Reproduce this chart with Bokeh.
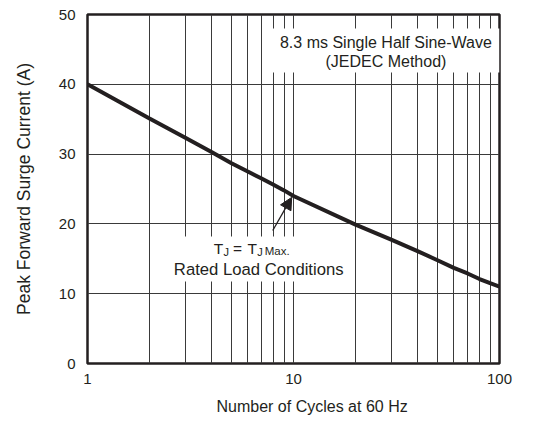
from bokeh.plotting import figure
from bokeh.models import (FixedTicker, Label, BoxAnnotation, Arrow, NormalHead,
                          Range1d, NumeralTickFormatter, Title)
from bokeh.embed import file_html
from bokeh.resources import INLINE

# ---- data ----
cycles = [1, 2, 3, 4, 5, 6, 7, 8, 9, 10, 20, 30, 40, 50, 60, 70, 80, 90, 100]
current = [40.0, 35.1, 32.3, 30.3, 28.7, 27.5, 26.5, 25.6, 24.8, 24.0,
           19.9, 17.7, 16.1, 14.8, 13.7, 12.9, 12.1, 11.5, 11.0]
x_ticks = [1, 10, 100]
y_ticks = [0, 10, 20, 30, 40, 50]
x_grid = [2, 3, 4, 5, 6, 7, 8, 9, 10, 20, 30, 40, 50, 60, 70, 80, 90]
y_grid = [10, 20, 30, 40]
x_title = "Number of Cycles at 60 Hz"
y_title = "Peak Forward Surge Current (A)"

FONT = "Liberation Sans"
INK = "#231f20"
GRID = "#3a3a3a"

p = figure(width=542, height=424, x_axis_type="log",
           x_range=Range1d(1, 100), y_range=Range1d(0, 50),
           output_backend="svg", toolbar_location=None,
           min_border_left=87, min_border_right=43,
           min_border_top=14, min_border_bottom=61)

p.background_fill_color = "white"
p.border_fill_color = "white"
p.outline_line_color = INK
p.outline_line_width = 2.5

# axes
for ax in (p.xaxis[0], p.yaxis[0]):
    ax.axis_line_color = None
    ax.major_tick_line_color = None
    ax.minor_tick_line_color = None
    ax.major_tick_out = 0
    ax.major_tick_in = 0
    ax.major_label_text_font = FONT
    ax.major_label_text_font_size = "15px"
    ax.major_label_text_color = INK
    ax.axis_label_text_font = FONT
    ax.axis_label_text_font_style = "normal"
    ax.axis_label_text_color = INK

p.xaxis.ticker = FixedTicker(ticks=x_ticks)
p.xaxis.formatter = NumeralTickFormatter(format="0")
p.xaxis.major_label_overrides = {t: str(t) for t in x_ticks}
p.xaxis.major_label_standoff = 10

p.yaxis.ticker = FixedTicker(ticks=y_ticks)
p.yaxis.major_label_standoff = 12
p.yaxis.axis_label = y_title
p.yaxis.axis_label_text_font_size = "17.5px"
p.yaxis.axis_label_standoff = 22

# x-axis title: in the reference it sits right of the frame centre
p.add_layout(Title(text=x_title, align="left", offset=129, standoff=19,
                   text_font=FONT, text_font_size="16px",
                   text_font_style="normal", text_color=INK), "below")

# grid
p.xgrid.ticker = FixedTicker(ticks=x_grid)
p.ygrid.ticker = FixedTicker(ticks=y_grid)
for g in (p.xgrid[0], p.ygrid[0]):
    g.grid_line_color = GRID
    g.grid_line_width = 1
    g.grid_line_alpha = 1

# curve
p.line(cycles, current, line_width=4, line_color=INK)

# white boxes behind annotation text (interrupting grid lines)
p.add_layout(BoxAnnotation(left=7.5, right=100, top=48.0, bottom=41.7,
                           fill_color="white", fill_alpha=1, line_color=None,
                           level="underlay"))
p.add_layout(BoxAnnotation(left=2.48, right=18.6, top=18.2, bottom=11.75,
                           fill_color="white", fill_alpha=1, line_color=None,
                           level="underlay"))

def lab(x, y, text, size="16px", align="center", baseline="middle",
        xo=0, yo=0):
    p.add_layout(Label(x=x, y=y, text=text, text_font=FONT,
                       text_font_size=size, text_color=INK,
                       text_align=align, text_baseline=baseline,
                       x_offset=xo, y_offset=yo))

lab(28.1, 46.0, "8.3 ms Single Half Sine-Wave")
lab(28.1, 43.2, "(JEDEC Method)")

# T_J = T_J Max.
ax0, ay0 = 4.10, 16.5
lab(ax0, ay0, "T", size="15.5px", align="left", baseline="alphabetic", xo=0)
lab(ax0, ay0, "J", size="11px", align="left", baseline="alphabetic", xo=9.7, yo=-4)
lab(ax0, ay0, "=", size="15.5px", align="left", baseline="alphabetic", xo=19.3)
lab(ax0, ay0, "T", size="15.5px", align="left", baseline="alphabetic", xo=33.8)
lab(ax0, ay0, "J", size="11px", align="left", baseline="alphabetic", xo=43.5, yo=-4)
lab(ax0, ay0, "Max.", size="11.5px", align="left", baseline="alphabetic", xo=51, yo=-2.5)
lab(6.78, 13.47, "Rated Load Conditions", size="16.7px")

p.add_layout(Arrow(end=NormalHead(size=12, fill_color=INK, line_color=INK),
                   x_start=7.93, y_start=19.05, x_end=9.8, y_end=23.8,
                   line_width=1.3, line_color=INK))

open("out.html", "w").write(file_html(p, INLINE))
